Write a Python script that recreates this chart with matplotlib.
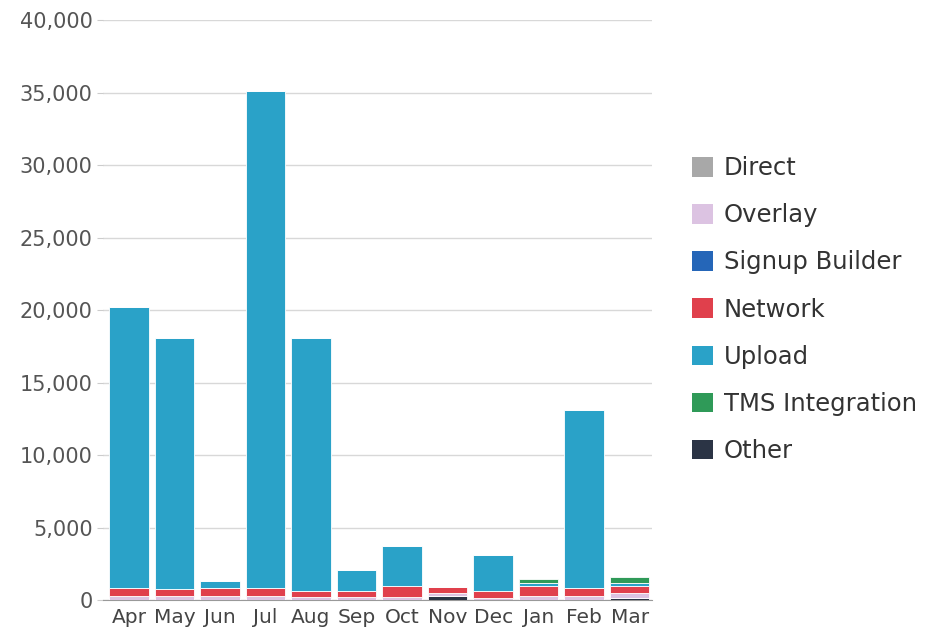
import numpy as np
import matplotlib.pyplot as plt
from matplotlib.patches import Patch
from matplotlib.ticker import FuncFormatter

plt.rcParams['font.family'] = ['DejaVu Sans']

months = ['Apr', 'May', 'Jun', 'Jul', 'Aug', 'Sep', 'Oct', 'Nov', 'Dec', 'Jan', 'Feb', 'Mar']

# signups per source, per month
other = [0, 0, 0, 0, 0, 0, 0, 300, 0, 0, 0, 150]
direct = [0, 0, 0, 0, 0, 0, 0, 0, 0, 0, 0, 0]
overlay = [300, 300, 300, 300, 200, 200, 200, 200, 150, 300, 250, 300]
signup_builder = [0, 0, 0, 0, 0, 0, 0, 0, 0, 0, 0, 0]
network = [500, 450, 500, 500, 450, 400, 800, 400, 450, 700, 550, 500]
upload = [19400, 17350, 500, 34300, 17450, 1500, 2700, 0, 2500, 200, 12300, 200]
tms = [0, 0, 0, 0, 0, 0, 0, 0, 0, 250, 0, 450]

legend_order = ['Direct', 'Overlay', 'Signup Builder', 'Network', 'Upload', 'TMS Integration', 'Other']
colors = {
    'Direct': '#a8a8a8',
    'Overlay': '#dcc3e2',
    'Signup Builder': '#2566b8',
    'Network': '#e0404c',
    'Upload': '#2aa2c8',
    'TMS Integration': '#2f9a58',
    'Other': '#2b3445',
}
stack = [('Other', other), ('Direct', direct), ('Overlay', overlay),
         ('Signup Builder', signup_builder), ('Network', network),
         ('Upload', upload), ('TMS Integration', tms)]

fig = plt.figure(figsize=(9.36, 6.4), dpi=100)
ax = fig.add_axes([0.11, 0.0625, 0.587, 0.906])

x = np.arange(len(months))
bottom = np.zeros(len(months))
for name, vals in stack:
    vals = np.array(vals, dtype=float)
    ax.bar(x, vals, bottom=bottom, width=0.87, color=colors[name],
           edgecolor='white', linewidth=0.6, zorder=3)
    bottom += vals

ax.set_xlim(-0.57, 11.5)
ax.set_ylim(0, 40000)
ax.set_yticks(np.arange(0, 40001, 5000))
ax.yaxis.set_major_formatter(FuncFormatter(lambda v, p: f'{int(v):,}'))
ax.grid(axis='y', color='#d8d8d8', linewidth=1, zorder=0)
ax.set_xticks(x)
ax.set_xticklabels(months)

for s in ['top', 'right', 'left']:
    ax.spines[s].set_visible(False)
ax.spines['bottom'].set_color('#999999')
ax.tick_params(axis='y', colors='#cccccc', labelcolor='#555555', labelsize=15, length=4)
ax.tick_params(axis='x', length=0, labelcolor='#444444', labelsize=14.5, pad=6)

handles = [Patch(facecolor=colors[n], edgecolor='none') for n in legend_order]
fig.legend(handles, legend_order, loc='upper left', bbox_to_anchor=(0.716, 0.79),
           frameon=False, fontsize=17.5, handlelength=0.85, handleheight=0.85,
           labelspacing=0.95, handletextpad=0.45, labelcolor='#333333')

fig.savefig('out.png', dpi=100)
